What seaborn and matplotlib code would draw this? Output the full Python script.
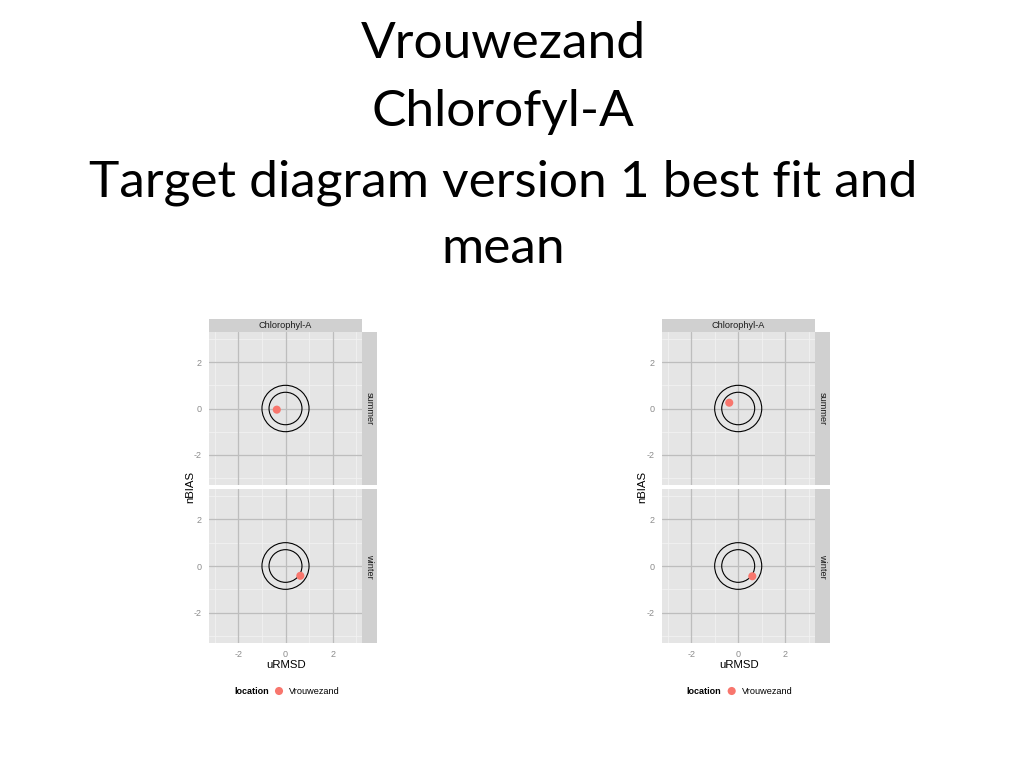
import os

os.environ.setdefault("MPLCONFIGDIR", "/tmp/matplotlib")

import matplotlib

matplotlib.use("Agg")
import matplotlib.pyplot as plt
import pandas as pd
import seaborn as sns
from matplotlib.patches import Circle

# ---- data ----
title_lines = ["Vrouwezand", "Chlorofyl-A", "Target diagram version 1 best fit and", "mean"]
seasons = ["summer", "winter"]
location = "Vrouwezand"
variable = "Chlorophyl-A"

urmsd_left = [-0.37, 0.63]
nbias_left = [-0.05, -0.42]
urmsd_right = [-0.38, 0.60]
nbias_right = [0.25, -0.44]

ring_radii = [1.0, 0.7]
major_ticks = [-2, 0, 2]
minor_ticks = [-3, -1, 1, 3]

W, H = 1024, 768
POINT_COLOR = "#F8766D"
SMALL_FONT = ["Liberation Sans", "DejaVu Sans"]


def fx(x):
    return x / W


def fy(y):
    return 1 - y / H


def make_frame():
    rows = []
    for panel, us, bs in [("left", urmsd_left, nbias_left), ("right", urmsd_right, nbias_right)]:
        for season, u, b in zip(seasons, us, bs):
            rows.append({"panel": panel, "season": season, "location": location, "uRMSD": u, "nBIAS": b})
    return pd.DataFrame(rows)


def style_panel(ax, show_x, show_y):
    ax.set_facecolor("#E5E5E5")
    ax.set_xlim(-3.25, 3.25)
    ax.set_ylim(-3.3, 3.3)
    for t in minor_ticks:
        ax.axvline(t, color="#F2F2F2", lw=0.6, zorder=0)
        ax.axhline(t, color="#F2F2F2", lw=0.6, zorder=0)
    for t in major_ticks:
        ax.axvline(t, color="#BDBDBD", lw=0.9, zorder=0.5)
        ax.axhline(t, color="#BDBDBD", lw=0.9, zorder=0.5)
    ax.set_xticks(major_ticks)
    ax.set_yticks(major_ticks)
    for s in ax.spines.values():
        s.set_visible(False)
    ax.tick_params(colors="#8C8C8C", labelcolor="#8C8C8C", labelsize=6.5, length=3, width=0.6, pad=2)
    for lab in ax.get_xticklabels() + ax.get_yticklabels():
        lab.set_family(SMALL_FONT)
    if not show_x:
        ax.tick_params(axis="x", bottom=False, labelbottom=False)
    if not show_y:
        ax.tick_params(axis="y", left=False, labelleft=False)
    ax.set_xlabel("")
    ax.set_ylabel("")


def draw_rings(ax):
    for r in ring_radii:
        ax.add_patch(Circle((0, 0), r, fill=False, edgecolor="black", lw=0.8, zorder=2))


def strip(fig, x0, y0, x1, y1, label, rotation=0):
    sax = fig.add_axes([fx(x0), fy(y1), fx(x1 - x0), (y1 - y0) / H])
    sax.set_facecolor("#D0D0D0")
    sax.set_xticks([])
    sax.set_yticks([])
    for s in sax.spines.values():
        s.set_visible(False)
    sax.text(0.5, 0.5, label, rotation=rotation, ha="center", va="center",
             fontsize=6.6, color="#1A1A1A", family=SMALL_FONT, transform=sax.transAxes)


sns.set_theme(style="white")
plt.rcParams["font.family"] = SMALL_FONT
plt.rcParams["axes.unicode_minus"] = False

df = make_frame()
fig = plt.figure(figsize=(W / 100, H / 100), dpi=100)
fig.patch.set_facecolor("white")

# slide title
baselines = [58, 126, 196, 263]
for line, yb in zip(title_lines, baselines):
    fig.text(fx(503), fy(yb), line, ha="center", va="baseline",
             fontsize=37, family=["Lato", "DejaVu Sans"], color="black")

panel_offsets = {"left": 0, "right": 452.7}
panel_rows = [(332, 485), (489, 643)]

for panel, off in panel_offsets.items():
    x0, x1 = 209 + off, 362 + off
    for i, season in enumerate(seasons):
        y0, y1 = panel_rows[i]
        ax = fig.add_axes([fx(x0), fy(y1), fx(x1 - x0), (y1 - y0) / H])
        draw_rings(ax)
        sub = df[(df["panel"] == panel) & (df["season"] == season)]
        sns.scatterplot(data=sub, x="uRMSD", y="nBIAS", color=POINT_COLOR, s=34,
                        edgecolor="none", ax=ax, zorder=3, legend=False)
        style_panel(ax, show_x=(i == 1), show_y=True)
        strip(fig, x1, y0, x1 + 15, y1, season, rotation=-90)
    strip(fig, x0, 319, x1, 332, variable)

    # axis titles
    fig.text(fx(190 + off), fy(487), "nBIAS", rotation=90, ha="center", va="center",
             fontsize=8.2, color="black")
    fig.text(fx(286 + off), fy(665), "uRMSD", ha="center", va="center",
             fontsize=8.2, color="black")

    # legend
    fig.text(fx(234 + off), fy(691), "location", ha="left", va="center",
             fontsize=6.5, fontweight="bold", color="black")
    leg_ax = fig.add_axes([fx(272 + off), fy(698), fx(14), 14 / H])
    leg_ax.set_axis_off()
    leg_ax.scatter([0.5], [0.5], s=34, color=POINT_COLOR, edgecolor="none")
    leg_ax.set_xlim(0, 1)
    leg_ax.set_ylim(0, 1)
    fig.text(fx(289 + off), fy(691), location, ha="left", va="center",
             fontsize=6.6, color="black")

fig.savefig("out.png", dpi=100, facecolor="white")
